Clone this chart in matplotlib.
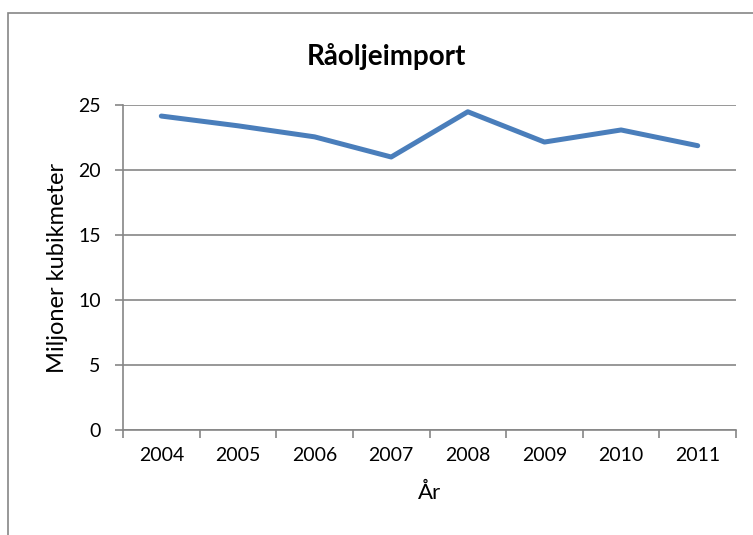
import matplotlib.pyplot as plt
from matplotlib.patches import Rectangle
from matplotlib.ticker import FixedLocator, MultipleLocator

years = ["2004", "2005", "2006", "2007", "2008", "2009", "2010", "2011"]
imports = [24.15, 23.4, 22.55, 21.0, 24.48, 22.15, 23.08, 21.87]

plt.rcParams['font.family'] = ['Lato', 'DejaVu Sans']
grey = '#868686'

fig = plt.figure(figsize=(7.53, 5.35), dpi=100)
# outer chart border (extends past the right/bottom edge)
fig.patches.append(Rectangle((8 / 753, -0.05), 1.0, 1 - 13 / 535 + 0.05,
                             transform=fig.transFigure, fill=False,
                             edgecolor=grey, linewidth=1.2))

ax = fig.add_axes([123 / 753, 1 - 430 / 535, (736 - 123) / 753, (430 - 105) / 535])
x = range(len(years))
ax.plot(x, imports, color='#4A7EBB', linewidth=3.6, solid_joinstyle='round',
        solid_capstyle='round', zorder=3)

ax.set_ylim(0, 25)
ax.set_xlim(-0.5, len(years) - 0.5)
ax.yaxis.set_major_locator(MultipleLocator(5))
ax.set_xticks(list(x))
ax.set_xticklabels(years)
ax.xaxis.set_minor_locator(FixedLocator([i - 0.5 for i in range(len(years) + 1)]))
ax.tick_params(axis='x', which='major', length=0, pad=12, labelsize=14)
ax.tick_params(axis='x', which='minor', length=6, width=1.2, color=grey, direction='out')
ax.tick_params(axis='y', length=6, width=1.2, color=grey, pad=10, labelsize=14)
ax.grid(axis='y', color=grey, linewidth=1.2)
ax.set_axisbelow(True)
for s in ['top', 'right']:
    ax.spines[s].set_visible(False)
for s in ['left', 'bottom']:
    ax.spines[s].set_color(grey)
    ax.spines[s].set_linewidth(1.2)

fig.text(386 / 753, 1 - 57 / 535, "Råoljeimport", ha='center', va='center',
         fontsize=20, fontweight='bold')
fig.text(57 / 753, 1 - 268 / 535, "Miljoner kubikmeter", ha='center', va='center',
         rotation=90, fontsize=17)
fig.text(430 / 753, 1 - 493 / 535, "År", ha='center', va='center', fontsize=16)

fig.savefig("out.png", dpi=100)
